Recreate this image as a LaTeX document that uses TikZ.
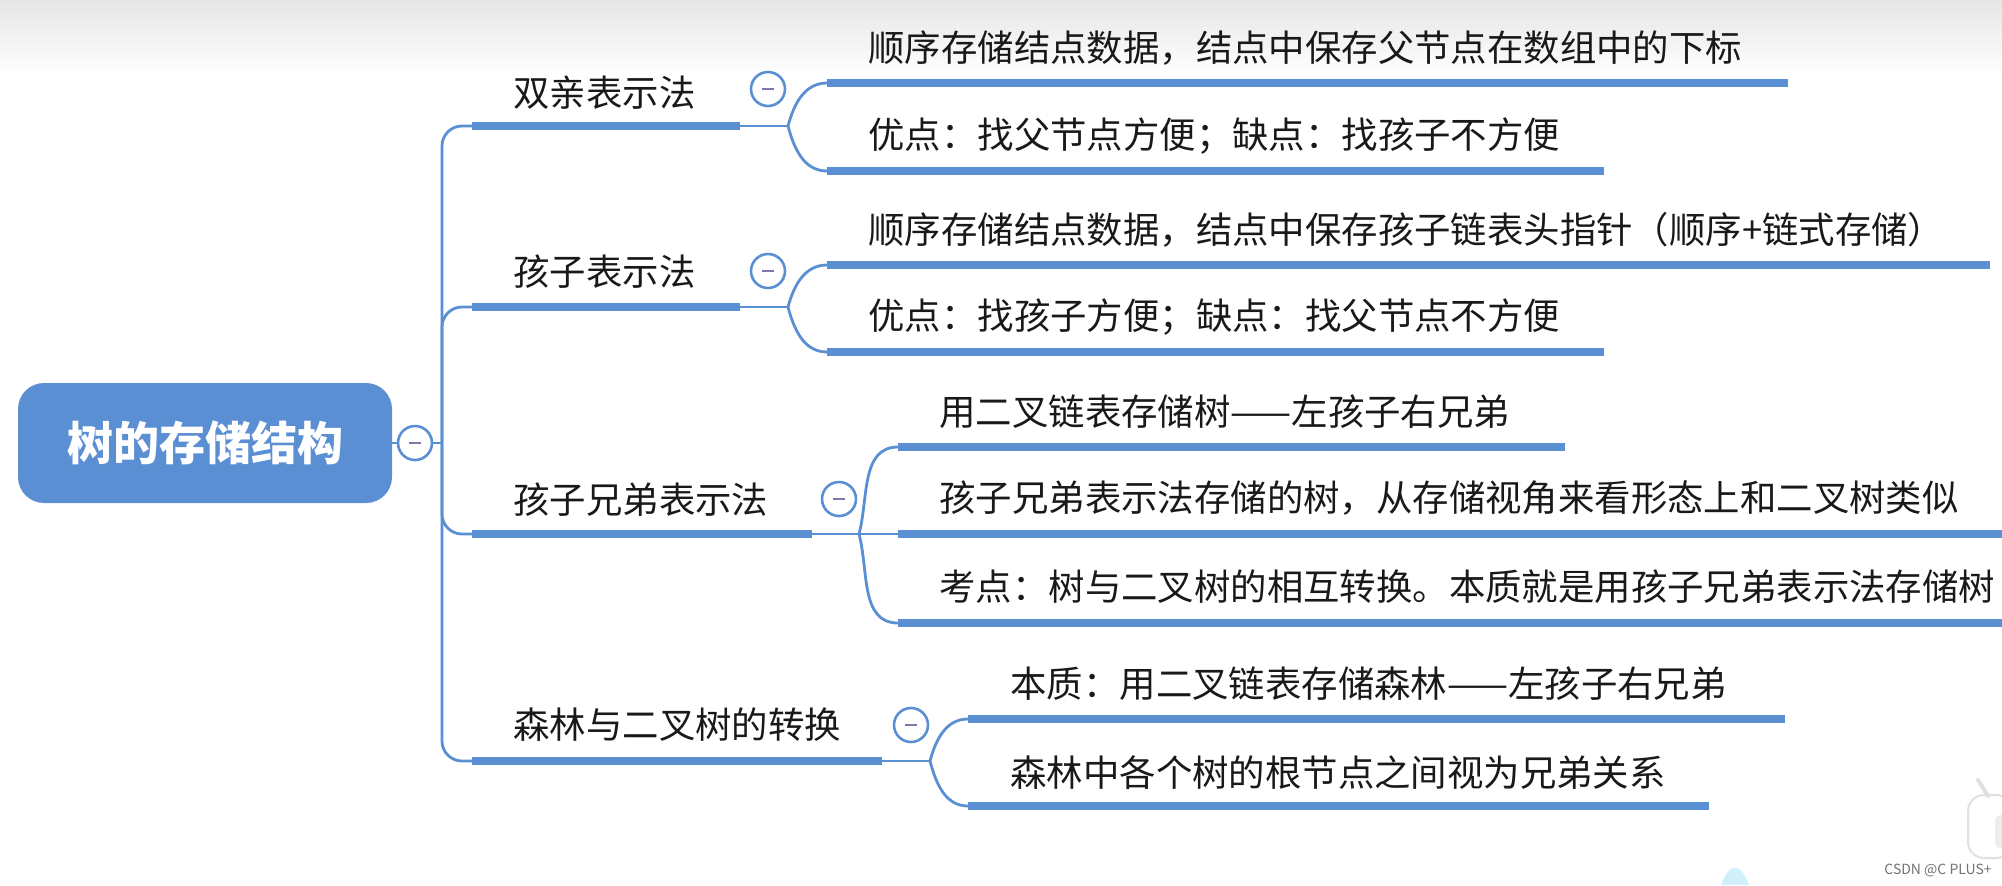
\documentclass[tikz,border=0pt]{standalone}
\usepackage{fontspec}
\setmainfont{Noto Sans CJK SC}
\usepackage{xcolor}
\usepackage{tikz}
\definecolor{mapblue}{RGB}{91,143,211}
\definecolor{foldminus}{RGB}{128,120,172}

\begin{document}
\begin{tikzpicture}[x=0.5pt,y=-0.5pt,
    thickline/.style={mapblue, line width=4.3pt},
    thinline/.style={mapblue, line width=1.4pt},
    maptext/.style={anchor=west, inner sep=0pt, text=black!90, font=\fontsize{18.2}{20}\selectfont},
    foldcircle/.style={circle, draw=mapblue, line width=1.3pt, fill=white, minimum size=17pt, inner sep=0pt}]
                \useasboundingbox (0,0) rectangle (2002,885);
                % Grey band at the top
                \shade[top color=black!10, bottom color=white] (0,0) rectangle (2002,75);

                % Root
                \node[fill=mapblue, rounded corners=13pt, minimum width=187pt, minimum height=60pt, text=white, font=\fontsize{23}{26}\selectfont\bfseries] (root) at (205,443) {树的存储结构};
                \node[foldcircle] (rootc) at (415,443) {};
                \coordinate (tk) at (442,443);
                \draw[thinline] (root.east) -- (rootc.west);
                \draw[thinline] (rootc.east) -- (tk);

                % Branch points
                \coordinate (b1l) at (472,126); \coordinate (b1r) at (740,126); \coordinate (b1s) at (788,126);
                \coordinate (b2l) at (472,307); \coordinate (b2r) at (740,307); \coordinate (b2s) at (788,307);
                \coordinate (b3l) at (472,534); \coordinate (b3r) at (812,534); \coordinate (b3s) at (859,534);
                \coordinate (b4l) at (472,761); \coordinate (b4r) at (882,761); \coordinate (b4s) at (930,761);

                % Trunk
                \draw[thinline, rounded corners=10pt] (tk) |- (b1l);
                \draw[thinline, rounded corners=10pt] (tk) |- (b2l);
                \draw[thinline, rounded corners=10pt] (tk) |- (b3l);
                \draw[thinline, rounded corners=10pt] (tk) |- (b4l);

                % Branches
                \node[maptext] (b1) at (513,93) {双亲表示法};
                \node[maptext] (b2) at (513,272) {孩子表示法};
                \node[maptext] (b3) at (513,500) {孩子兄弟表示法};
                \node[maptext] (b4) at (513,725) {森林与二叉树的转换};
                \node[foldcircle] (f1) at (768,89) {};
                \node[foldcircle] (f2) at (768,271) {};
                \node[foldcircle] (f3) at (839,499) {};
                \node[foldcircle] (f4) at (911,725) {};
                \foreach \f in {rootc,f1,f2,f3,f4}
                    \draw[foldminus, line width=1pt] ([xshift=-3pt]\f.center) -- ([xshift=3pt]\f.center);
                \draw[thickline] (b1l) -- (b1r);
                \draw[thickline] (b2l) -- (b2r);
                \draw[thickline] (b3l) -- (b3r);
                \draw[thickline] (b4l) -- (b4r);
                \draw[thinline] (b1r) -- (b1s);
                \draw[thinline] (b2r) -- (b2s);
                \draw[thinline] (b3r) -- (b3s);
                \draw[thinline] (b4r) -- (b4s);

                % Leaves: start and end of each underline
                \coordinate (c1al) at (827,83);  \coordinate (c1ar) at (1788,83);
                \coordinate (c1bl) at (827,171); \coordinate (c1br) at (1604,171);
                \coordinate (c2al) at (827,265); \coordinate (c2ar) at (1990,265);
                \coordinate (c2bl) at (827,352); \coordinate (c2br) at (1604,352);
                \coordinate (c3al) at (898,447); \coordinate (c3ar) at (1565,447);
                \coordinate (c3bl) at (898,534); \coordinate (c3br) at (2002,534);
                \coordinate (c3cl) at (898,623); \coordinate (c3cr) at (2002,623);
                \coordinate (c4al) at (968,719); \coordinate (c4ar) at (1785,719);
                \coordinate (c4bl) at (968,806); \coordinate (c4br) at (1709,806);

                \node[maptext] (c1a) at (868,48) {顺序存储结点数据，结点中保存父节点在数组中的下标};
                \node[maptext] (c1b) at (868,136) {优点：找父节点方便；缺点：找孩子不方便};
                \node[maptext] (c2a) at (868,230) {顺序存储结点数据，结点中保存孩子链表头指针（顺序+链式存储）};
                \node[maptext] (c2b) at (868,317) {优点：找孩子方便；缺点：找父节点不方便};
                \node[maptext] (c3a) at (939,412) {用二叉链表存储树——左孩子右兄弟};
                \node[maptext] (c3b) at (939,498) {孩子兄弟表示法存储的树，从存储视角来看形态上和二叉树类似};
                \node[maptext] (c3c) at (939,587) {考点：树与二叉树的相互转换。本质就是用孩子兄弟表示法存储树};
                \node[maptext] (c4a) at (1010,684) {本质：用二叉链表存储森林——左孩子右兄弟};
                \node[maptext] (c4b) at (1010,773) {森林中各个树的根节点之间视为兄弟关系};

                % Splits to the leaves
                \draw[thinline] (b1s) to[out=75,in=180] (c1al);
                \draw[thinline] (b1s) to[out=-75,in=180] (c1bl);
                \draw[thinline] (b2s) to[out=75,in=180] (c2al);
                \draw[thinline] (b2s) to[out=-75,in=180] (c2bl);
                \draw[thinline] (b3s) to[out=75,in=180] (c3al);
                \draw[thinline] (b3s) -- (c3bl);
                \draw[thinline] (b3s) to[out=-75,in=180] (c3cl);
                \draw[thinline] (b4s) to[out=75,in=180] (c4al);
                \draw[thinline] (b4s) to[out=-75,in=180] (c4bl);
                \draw[thickline] (c1al) -- (c1ar);
                \draw[thickline] (c1bl) -- (c1br);
                \draw[thickline] (c2al) -- (c2ar);
                \draw[thickline] (c2bl) -- (c2br);
                \draw[thickline] (c3al) -- (c3ar);
                \draw[thickline] (c3bl) -- (c3br);
                \draw[thickline] (c3cl) -- (c3cr);
                \draw[thickline] (c4al) -- (c4ar);
                \draw[thickline] (c4bl) -- (c4br);

                % Bits of the screen at the bottom right
                \fill[cyan!18] (1721,885) .. controls (1729,862) and (1741,862) .. (1749,885) -- cycle;
                \draw[black!12, line width=1pt, fill=white, rounded corners=8pt] (1968,795) rectangle (2012,858);
                \draw[black!12, line width=2pt, line cap=round] (1978,780) -- (1988,796);
                \fill[black!7, rounded corners=3pt] (1995,815) rectangle (2008,848);
                \node[text=black!55, font=\fontsize{7}{8}\selectfont, inner sep=0pt] (mark) at (1938,870) {CSDN @C PLUS+};
\end{tikzpicture}
\end{document}
